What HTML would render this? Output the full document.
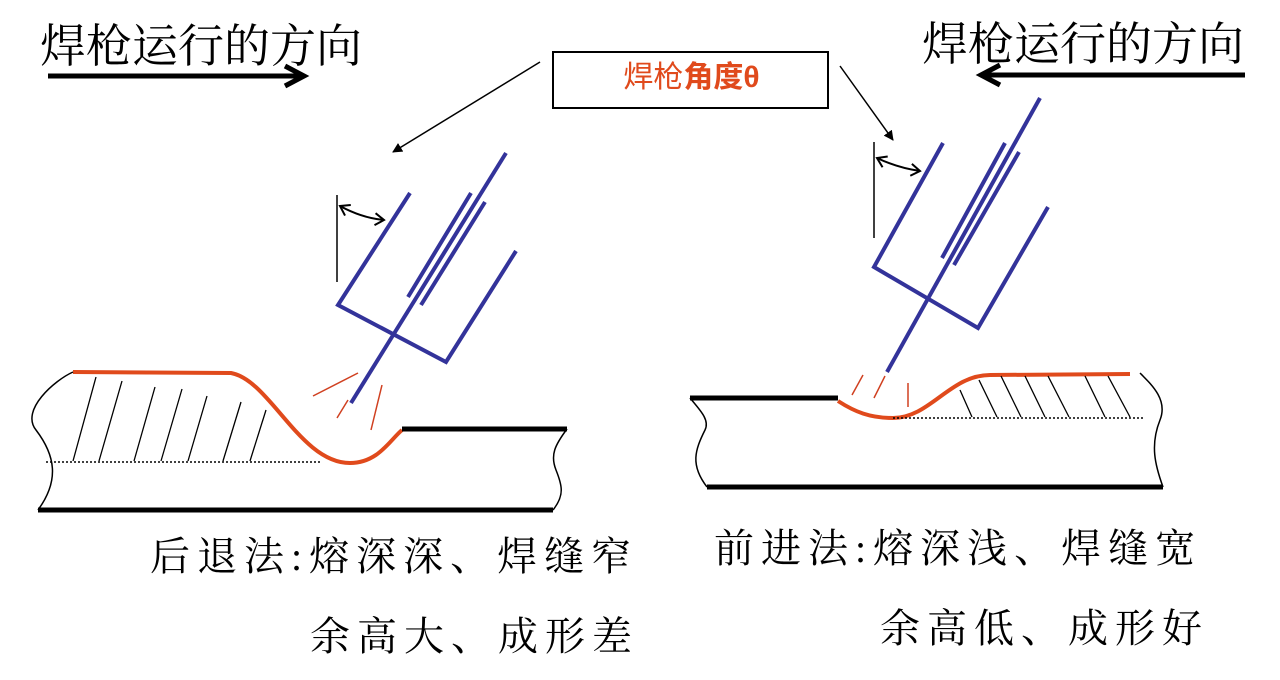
<!DOCTYPE html>
<html><head><meta charset="utf-8"><style>
html,body{margin:0;padding:0;background:#fff;}
body{width:1280px;height:680px;position:relative;overflow:hidden;}
.t{position:absolute;font-family:"Liberation Serif","Noto Serif CJK SC",serif;color:#000;white-space:nowrap;line-height:1;}
svg{position:absolute;left:0;top:0;}
</style></head><body>
<svg width="1280" height="680" viewBox="0 0 1280 680">
<defs>
<marker id="ah" markerWidth="10" markerHeight="10" refX="9" refY="5" orient="auto" markerUnits="userSpaceOnUse"><path d="M0,0 L10,5 L0,10 z" fill="#000"/></marker>
<marker id="oa" markerWidth="12" markerHeight="14" refX="10" refY="7" orient="auto-start-reverse" markerUnits="userSpaceOnUse"><path d="M1,1 L10,7 L1,13" fill="none" stroke="#000" stroke-width="2"/></marker>
</defs>
<line x1="48" y1="76" x2="300" y2="76" stroke="#000" stroke-width="5"/>
<path d="M285,66 L304,76 L285,86" fill="none" stroke="#000" stroke-width="5"/>
<line x1="985" y1="75" x2="1245" y2="75" stroke="#000" stroke-width="5"/>
<path d="M1000,65 L981,75 L1000,85" fill="none" stroke="#000" stroke-width="5"/>
<rect x="553" y="52" width="275" height="56" fill="#fff" stroke="#000" stroke-width="2"/>
<line x1="540" y1="62" x2="393" y2="152" stroke="#000" stroke-width="1.5" marker-end="url(#ah)"/>
<line x1="840" y1="66" x2="893" y2="140" stroke="#000" stroke-width="1.5" marker-end="url(#ah)"/>

<line x1="337" y1="195" x2="337" y2="282" stroke="#000" stroke-width="1.5"/>
<path d="M340,206 Q362,218 384,220" fill="none" stroke="#000" stroke-width="2" marker-start="url(#oa)" marker-end="url(#oa)"/>
<g stroke="#33339a" stroke-width="4" fill="none">
<polyline points="410,193 338,305 446,362 516,251"/>
<line x1="506" y1="153" x2="351" y2="403"/>
<line x1="471" y1="193" x2="408" y2="297"/>
<line x1="485" y1="202" x2="421" y2="305"/>
</g>
<g stroke="#d04020" stroke-width="1.5">
<line x1="313" y1="396" x2="358" y2="373"/>
<line x1="337" y1="418" x2="348" y2="400"/>
<line x1="382" y1="385" x2="371" y2="430"/>
</g>
<path d="M73,372 L231,373 C270,380 300,463 350,463 C378,463 390,440 402,430" fill="none" stroke="#e04a1c" stroke-width="4"/>
<line x1="402" y1="429" x2="567" y2="429" stroke="#000" stroke-width="5"/>
<line x1="38" y1="510" x2="553" y2="510" stroke="#000" stroke-width="5"/>
<path d="M73,372 C55,380 20,410 36,430 C55,455 60,480 38,510" fill="none" stroke="#000" stroke-width="1.5"/>
<path d="M567,429 C555,445 550,455 556,470 C562,485 565,495 553,510" fill="none" stroke="#000" stroke-width="1.5"/>
<line x1="46" y1="462" x2="322" y2="462" stroke="#000" stroke-width="1.5" stroke-dasharray="2,2"/>
<g stroke="#000" stroke-width="1.3">
<line x1="73" y1="461" x2="96" y2="377"/>
<line x1="99" y1="461" x2="122" y2="381"/>
<line x1="134" y1="461" x2="155" y2="387"/>
<line x1="161" y1="461" x2="182" y2="389"/>
<line x1="188" y1="461" x2="207" y2="396"/>
<line x1="223" y1="461" x2="241" y2="402"/>
<line x1="250" y1="461" x2="266" y2="410"/>
</g>

<line x1="874" y1="142" x2="874" y2="238" stroke="#000" stroke-width="1.5"/>
<path d="M877,158 Q898,168 920,171" fill="none" stroke="#000" stroke-width="2" marker-start="url(#oa)" marker-end="url(#oa)"/>
<g stroke="#33339a" stroke-width="4" fill="none">
<polyline points="943,143 874,267 978,328 1048,207"/>
<line x1="1040" y1="98" x2="887" y2="372"/>
<line x1="1005" y1="143" x2="942" y2="258"/>
<line x1="1019" y1="152" x2="954" y2="265"/>
</g>
<g stroke="#d04020" stroke-width="1.5">
<line x1="852" y1="395" x2="863" y2="375"/>
<line x1="874" y1="398" x2="885" y2="376"/>
<line x1="908" y1="407" x2="908" y2="383"/>
</g>
<path d="M838,401 C855,412 870,418 893,418 C930,418 950,375 990,375 L1130,374" fill="none" stroke="#e04a1c" stroke-width="4"/>
<line x1="690" y1="398" x2="838" y2="398" stroke="#000" stroke-width="5"/>
<line x1="707" y1="487" x2="1163" y2="487" stroke="#000" stroke-width="5"/>
<path d="M690,398 C700,410 710,420 705,430 C695,450 690,465 707,487" fill="none" stroke="#000" stroke-width="1.5"/>
<path d="M1140,373 C1152,385 1168,400 1160,420 C1150,445 1155,465 1163,487" fill="none" stroke="#000" stroke-width="1.5"/>
<line x1="893" y1="418" x2="1145" y2="418" stroke="#000" stroke-width="1.5" stroke-dasharray="2,2"/>
<g stroke="#000" stroke-width="1.3">
<line x1="960" y1="390" x2="972" y2="417"/>
<line x1="979" y1="380" x2="997" y2="417"/>
<line x1="1001" y1="376" x2="1021" y2="417"/>
<line x1="1025" y1="376" x2="1045" y2="417"/>
<line x1="1048" y1="376" x2="1069" y2="417"/>
<line x1="1085" y1="376" x2="1105" y2="417"/>
<line x1="1108" y1="376" x2="1130" y2="417"/>
</g>
</svg>
<div class="t" style="left:40px;top:24px;font-size:46px;">焊枪运行的方向</div>
<div class="t" style="left:922px;top:22px;font-size:46px;">焊枪运行的方向</div>
<div class="t" style="left:553px;top:63px;width:277px;text-align:center;font-size:30px;color:#e04a1c;font-family:'Liberation Sans','Noto Sans CJK SC',sans-serif;">焊枪<b>角度θ</b></div>
<div class="t" style="left:150px;top:537px;font-size:40px;letter-spacing:7px;">后退法:熔深深、焊缝窄</div>
<div class="t" style="left:310px;top:617px;font-size:40px;letter-spacing:7px;">余高大、成形差</div>
<div class="t" style="left:714px;top:529px;font-size:40px;letter-spacing:7px;">前进法:熔深浅、焊缝宽</div>
<div class="t" style="left:880px;top:609px;font-size:40px;letter-spacing:7px;">余高低、成形好</div>
</body></html>
